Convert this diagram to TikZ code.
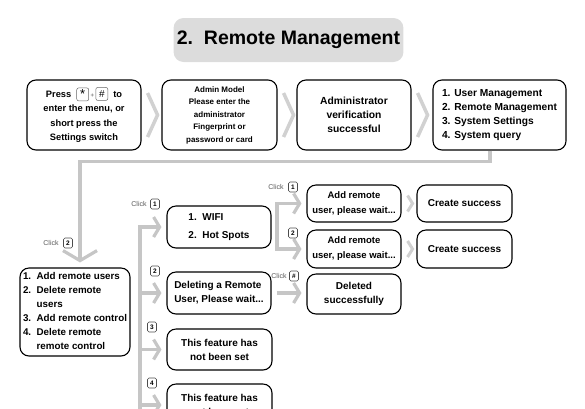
\documentclass[tikz,border=0pt]{standalone}
\usepackage{fontspec}
\setmainfont{Liberation Sans}
\usetikzlibrary{arrows.meta,calc}
\definecolor{lg}{HTML}{C6C6C6}
\definecolor{titlegray}{HTML}{DCDCDC}
\newcommand{\kcap}[1]{\tikz[baseline=(kk.base)]\node[draw=black!60,rounded corners=2pt,line width=0.5pt,inner sep=0pt,minimum width=12pt,minimum height=13pt,font=\fontsize{10}{10}\selectfont\mdseries](kk){#1};}
\begin{document}
\begin{tikzpicture}[x=1pt,y=-1pt,
  box/.style={draw, line width=1.1pt, rounded corners=9pt, align=center, inner sep=1pt, font=\bfseries\fontsize{10}{14}\selectfont},
  conn/.style={draw=lg, line width=3.2pt, line join=miter},
  arr/.style={conn, -{Straight Barb[length=6pt,width=20pt]}},
  chev/.style={draw=lg!80, line width=3.5pt, line join=miter},
  clk/.style={font=\fontsize{7}{8}\selectfont, text=black!65, inner sep=0pt},
  key/.style={draw=black!70, rounded corners=1.5pt, line width=0.6pt, minimum width=9pt, minimum height=10pt, inner sep=0pt, font=\bfseries\fontsize{6.5}{7}\selectfont}]
\useasboundingbox (0,0) rectangle (585,408);

% title
\node[fill=titlegray, rounded corners=10pt, minimum width=229pt, minimum height=44pt, font=\bfseries\fontsize{19.5}{20}\selectfont] (title) at (288.5,40) {2.\ \ Remote Management};

% top row
\node[box, minimum width=114pt, minimum height=70pt, font=\bfseries\fontsize{9.3}{14.5}\selectfont] (b1) at (84,115)
  {Press\ \ \kcap{\raisebox{-1.5pt}{\fontsize{13}{13}\selectfont *}}\,{\color{black!50}\fontsize{6}{6}\selectfont+}\,\kcap{\#}\ \ to\\enter the menu, or\\short press the\\Settings switch};
\node[box, minimum width=115pt, minimum height=70pt, font=\bfseries\fontsize{8}{12.5}\selectfont] (b2) at (219.5,115)
  {Admin Model\\Please enter the\\administrator\\Fingerprint or\\password or card};
\node[box, minimum width=114pt, minimum height=70pt, font=\bfseries\fontsize{10.3}{14}\selectfont] (b3) at (354,115)
  {Administrator\\verification\\successful};
\node[box, minimum width=133pt, minimum height=70pt, align=left, font=\bfseries\fontsize{10.2}{14}\selectfont] (b4) at (499.5,115)
  {1. User Management\\2. Remote Management\\3. System Settings\\4. System query};

\foreach \a in {b1,b2,b3}
  \draw[chev] ($(\a.east)+(6,-22)$) -- ($(\a.east)+(16,0)$) -- ($(\a.east)+(6,22)$);

% list box
\node[box, minimum width=110pt, minimum height=88pt, font=\bfseries\fontsize{9.8}{14}\selectfont] (list) at (75,312)
  {\begin{tabular}{@{}l@{\ \ }l@{}}1. & Add remote users\\2. & Delete remote\\ & users\\3. & Add remote control\\4. & Delete remote\\ & remote control\end{tabular}};

\coordinate (c490) at (490,0);
\coordinate (c80) at (80,0);
\draw[conn, -{Straight Barb[length=10pt,width=34pt]}, shorten >=5pt] (b4.south -| c490) -- ++(0,11) -| (list.north -| c80);
\node[clk] (cl2) at (51,243) {Click};
\node[key] (k2) at (68,243) {2};

% second column
\node[box, minimum width=104pt, minimum height=42pt, align=left, font=\bfseries\fontsize{10}{18}\selectfont] (wifi) at (219,227)
  {1.\ \ WIFI\\2.\ \ Hot Spots};
\node[box, minimum width=104pt, minimum height=42pt, align=left] (del) at (219,293)
  {Deleting a Remote\\User, Please wait...};
\node[box, minimum width=105pt, minimum height=41pt] (f3) at (219.5,349.5)
  {This feature has\\not been set};
\node[box, minimum width=105pt, minimum height=42pt] (f4) at (219.5,405)
  {This feature has\\not been set};

\coordinate (trunk) at (140,0);
\draw[arr, shorten >=5pt] (140,420) |- (wifi.west);
\draw[arr, shorten >=5pt] (del.west -| trunk) -- (del.west);
\draw[arr, shorten >=5pt] (f3.west -| trunk) -- (f3.west);
\draw[arr, shorten >=5pt] (f4.west -| trunk) -- (f4.west);

\node[clk] (clw) at (139,204) {Click};
\node[key] (kw) at (155,204) {1};
\node[key] (kd) at (155,271) {2};
\node[key] (k3) at (152,327) {3};
\node[key] (k4) at (152,383) {4};

% third column
\node[box, minimum width=94pt, minimum height=37pt, font=\bfseries\fontsize{9.5}{15}\selectfont] (add1) at (354,203.5)
  {Add remote\\user, please wait...};
\node[box, minimum width=94pt, minimum height=38pt, font=\bfseries\fontsize{9.5}{15}\selectfont] (add2) at (354,249)
  {Add remote\\user, please wait...};
\node[box, minimum width=95pt, minimum height=37pt] (cr1) at (464.5,203.5) {Create success};
\node[box, minimum width=95pt, minimum height=38pt] (cr2) at (464.5,249) {Create success};
\node[box, minimum width=94pt, minimum height=40pt] (deld) at (354,294) {Deleted\\successfully};

\coordinate (br) at (277,0);
\draw[arr, shorten >=5pt] (add2.west -| br) |- (add1.west);
\draw[arr, shorten >=5pt] (add1.west -| br) |- (add2.west);
\draw[arr, shorten <=5pt, shorten >=5pt] (del.east) -- (del.east -| deld.west);

\foreach \a/\b in {add1/cr1,add2/cr2}
  \draw[chev, line width=3pt] ($(\a.east)+(6,-8)$) -- ($(\a.east)+(11,0)$) -- ($(\a.east)+(6,8)$);

\node[clk] (cla) at (276,187) {Click};
\node[key] (ka) at (293,187) {1};
\node[key] (kb) at (293,233) {2};
\node[clk] (clh) at (279,276) {Click};
\node[key] (kh) at (294,276) {\#};
\end{tikzpicture}
\end{document}
